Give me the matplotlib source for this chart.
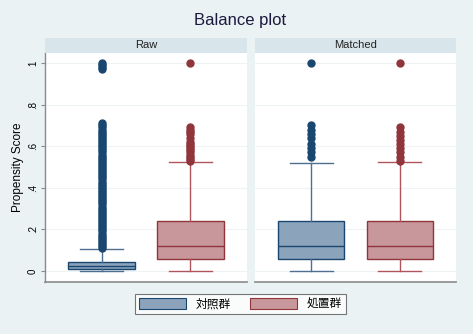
import matplotlib.pyplot as plt
from matplotlib.patches import Rectangle, Patch

plt.rcParams['font.family'] = ['Liberation Sans', 'Noto Sans CJK JP', 'DejaVu Sans']

panels = ['Raw', 'Matched']
groups = ['対照群', '処置群']

# box stats per panel: [control, treated] -> (whislo, q1, med, q3, whishi)
raw_stats = [(0.0, 0.01, 0.022, 0.045, 0.105), (0.0, 0.057, 0.12, 0.24, 0.525)]
matched_stats = [(0.0, 0.057, 0.12, 0.24, 0.52), (0.0, 0.057, 0.12, 0.24, 0.525)]

raw_ctrl_out = [0.11, 0.12, 0.13, 0.14, 0.15, 0.16, 0.17, 0.18, 0.19, 0.20,
                0.21, 0.22, 0.23, 0.24, 0.25, 0.26, 0.27, 0.28, 0.29, 0.30,
                0.31, 0.32, 0.33, 0.34, 0.35, 0.36, 0.37, 0.38, 0.39, 0.40,
                0.41, 0.42, 0.43, 0.44, 0.45, 0.46, 0.47, 0.48, 0.49, 0.50,
                0.51, 0.52, 0.53, 0.54, 0.55, 0.56, 0.57, 0.58, 0.59, 0.60,
                0.61, 0.62, 0.63, 0.64, 0.65, 0.66, 0.67, 0.68, 0.69, 0.70,
                0.71, 0.97, 0.98, 0.99, 1.0]
raw_trt_out = [0.53, 0.54, 0.55, 0.56, 0.57, 0.58, 0.59, 0.60, 0.61, 0.62,
               0.64, 0.66, 0.67, 0.68, 0.69, 1.0]
matched_ctrl_out = [0.55, 0.57, 0.59, 0.61, 0.64, 0.66, 0.68, 0.70, 1.0]
matched_trt_out = [0.53, 0.55, 0.57, 0.59, 0.61, 0.63, 0.65, 0.67, 0.69, 1.0]

yticks = [0, 0.2, 0.4, 0.6, 0.8, 1.0]
ylabels = ['0', '.2', '.4', '.6', '.8', '1']

edge = ['#1a476f', '#90353b']
fill = ['#8ca3bc', '#c8979b']
whisk = ['#4f6f91', '#b0555c']

bg = '#eaf2f3'
strip = '#d8e5ea'

W, H = 473, 334
fig = plt.figure(figsize=(W / 100, H / 100), dpi=100)
fig.patch.set_facecolor(bg)


def px(x0, y0, x1, y1):
    return [x0 / W, 1 - y1 / H, (x1 - x0) / W, (y1 - y0) / H]


panel_x = [(45, 247), (255, 456)]
all_stats = [raw_stats, matched_stats]
all_out = [[raw_ctrl_out, raw_trt_out], [matched_ctrl_out, matched_trt_out]]

ymin = -(282 - 271) / 208.0
ymax = 1 + (63 - 53) / 208.0

for p, (x0, x1) in enumerate(panel_x):
    ax = fig.add_axes(px(x0, 53, x1, 282))
    ax.set_facecolor('white')
    # header strip
    fig.patches.append(Rectangle((x0 / W, 1 - 53 / H), (x1 - x0) / W, 15 / H,
                                 transform=fig.transFigure, facecolor=strip,
                                 edgecolor='none'))
    fig.text((x0 + x1) / 2 / W, 1 - 45.5 / H, panels[p], ha='center', va='center',
             fontsize=8, color='#222222')
    for g in range(2):
        s = all_stats[p][g]
        st = [dict(whislo=s[0], q1=s[1], med=s[2], q3=s[3], whishi=s[4],
                   fliers=all_out[p][g], label=groups[g])]
        ax.bxp(st, positions=[g + 1], widths=0.745, capwidths=0.485,
               patch_artist=True,
               boxprops=dict(facecolor=fill[g], edgecolor=edge[g], linewidth=1.0),
               medianprops=dict(color=edge[g], linewidth=1.0),
               whiskerprops=dict(color=whisk[g], linewidth=1.0),
               capprops=dict(color=whisk[g], linewidth=1.0),
               flierprops=dict(marker='o', markersize=5.0, markerfacecolor=edge[g],
                               markeredgecolor=edge[g], linestyle='none'),
               zorder=3)
    ax.set_xlim(0.364, 2.636)
    ax.set_ylim(ymin, ymax)
    ax.set_xticks([])
    ax.set_yticks(yticks)
    for yv in yticks:
        ax.axhline(yv, color='#eef3f5', linewidth=0.8, zorder=0)
    for sp in ['top', 'right']:
        ax.spines[sp].set_visible(False)
    ax.spines['bottom'].set_color('#8a8a8a')
    ax.spines['bottom'].set_linewidth(1.2)
    if p == 0:
        ax.spines['left'].set_color('#8a8a8a')
        ax.spines['left'].set_linewidth(1.0)
        ax.set_yticklabels(ylabels, rotation=90, va='center', fontsize=7)
        ax.tick_params(axis='y', length=3, color='#8a8a8a', pad=2)
        ax.set_ylabel('Propensity Score', fontsize=8.5, labelpad=3)
    else:
        ax.spines['left'].set_visible(False)
        ax.tick_params(axis='y', length=0, labelleft=False)

fig.text(240 / W, 1 - 20 / H, 'Balance plot', ha='center', va='center',
         fontsize=12, color='#1a1a40')

handles = [Patch(facecolor=fill[g], edgecolor=edge[g], linewidth=0.8) for g in range(2)]
leg = fig.legend(handles, groups, loc='center', bbox_to_anchor=(240.5 / W, 1 - 304 / H),
                 ncol=2, fontsize=8.5, frameon=True, fancybox=False,
                 handlelength=4.0, handleheight=1.1, columnspacing=1.6,
                 handletextpad=0.8, borderpad=0.35)
leg.get_frame().set_edgecolor('#555555')
leg.get_frame().set_linewidth(0.8)
leg.get_frame().set_facecolor('white')

fig.savefig('out.png', dpi=100, facecolor=bg)
